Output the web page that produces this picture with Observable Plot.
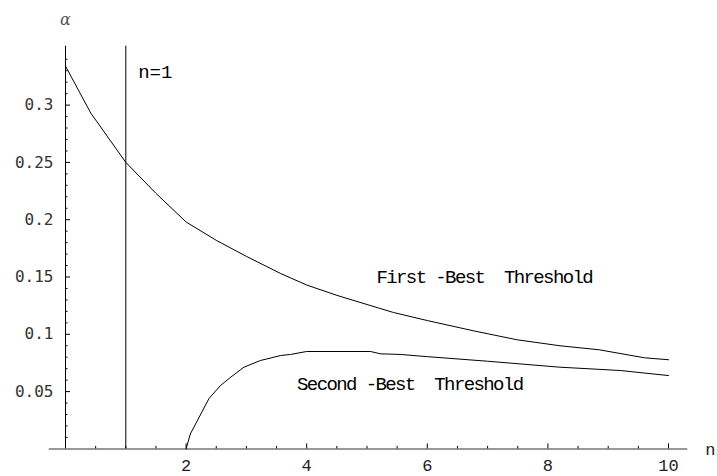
<!DOCTYPE html>
<html><head><meta charset="utf-8">
<script src="https://cdn.jsdelivr.net/npm/d3@7"></script>
<script src="https://cdn.jsdelivr.net/npm/@observablehq/plot@0.6"></script>
<style>body{margin:0;background:#fff} svg{display:block}</style>
</head><body><div id="chart"></div>
<script>
// First-best threshold curve (n, alpha)
const firstN     = [0, 0.42, 1, 1.5, 2, 2.5, 3, 3.57, 4, 4.5, 5, 5.44, 6, 6.77, 7.49, 8.2, 8.85, 9.6, 10];
const firstAlpha = [0.334, 0.293, 0.250, 0.223, 0.198, 0.182, 0.168, 0.153, 0.143, 0.134, 0.126, 0.119, 0.112, 0.103, 0.0952, 0.090, 0.0865, 0.0795, 0.0778];
// Second-best threshold curve
const secondN     = [2.0, 2.07, 2.38, 2.57, 2.74, 2.96, 3.23, 3.57, 3.73, 4.0, 5.06, 5.22, 5.56, 6, 7, 8.2, 9.2, 10];
const secondAlpha = [0, 0.013, 0.044, 0.0553, 0.0626, 0.0713, 0.0771, 0.0815, 0.0824, 0.085, 0.085, 0.083, 0.0824, 0.0805, 0.0765, 0.0713, 0.0684, 0.064];
// Vertical reference line
const refLineN = [1];
// Ticks
const xMajorTicks = [2, 4, 6, 8, 10];
const xTickLabels = ["2", "4", "6", "8", "10"];
const xMinorTicks = [0.5, 1, 1.5, 2.5, 3, 3.5, 4.5, 5, 5.5, 6.5, 7, 7.5, 8.5, 9, 9.5];
const yMajorTicks = [0.05, 0.1, 0.15, 0.2, 0.25, 0.3];
const yTickLabels = ["0.05", "0.1", "0.15", "0.2", "0.25", "0.3"];
const yMinorTicks = [0.01,0.02,0.03,0.04,0.06,0.07,0.08,0.09,0.11,0.12,0.13,0.14,0.16,0.17,0.18,0.19,0.21,0.22,0.23,0.24,0.26,0.27,0.28,0.29,0.31,0.32,0.33,0.34];
// Axis extents
const xAxisExtent = [-0.27, 10.32];
const yAxisTop = 0.3514;
// Annotations
const annotations = [
  {text: "n=1", x: 1.205, y: 0.3293},
  {text: "First -Best\u00A0 Threshold", x: 5.157, y: 0.1504},
  {text: "Second -Best\u00A0 Threshold", x: 3.84, y: 0.0571}
];

const first = firstN.map((n, i) => ({n, a: firstAlpha[i]}));
const second = secondN.map((n, i) => ({n, a: secondAlpha[i]}));
const xMaj = xMajorTicks.map((v, i) => ({v, label: xTickLabels[i]}));
const yMaj = yMajorTicks.map((v, i) => ({v, label: yTickLabels[i]}));

const mono = "'Courier New', 'Liberation Mono', monospace";

const chart = Plot.plot({
  width: 717,
  height: 476,
  marginLeft: 65,
  marginRight: 49,
  marginTop: 47.3,
  marginBottom: 27.6,
  x: {domain: [0, 10], axis: null},
  y: {domain: [0, 0.35], axis: null},
  marks: [
    // x axis line
    Plot.ruleY([0], {x1: xAxisExtent[0], x2: xAxisExtent[1], stroke: "#777", strokeWidth: 1.5}),
    // y axis line
    Plot.ruleX([0], {y1: 0, y2: yAxisTop, stroke: "#000", strokeWidth: 1}),
    // x ticks
    Plot.ruleX(xMaj, {x: "v", y1: 0, y2: 0, insetBottom: 5, stroke: "#000"}),
    Plot.ruleX(xMinorTicks, {x: d => d, y1: 0, y2: 0, insetBottom: 2.5, stroke: "#000"}),
    // y ticks
    Plot.ruleY(yMaj, {y: "v", x1: 0, x2: 0, insetRight: -5, stroke: "#000"}),
    Plot.ruleY(yMinorTicks, {y: d => d, x1: 0, x2: 0, insetRight: -2.5, stroke: "#000"}),
    // tick labels
    Plot.text(xMaj, {x: "v", y: 0, text: "label", dy: 17, fontFamily: mono, fontSize: 17, fill: "#222"}),
    Plot.text(yMaj, {x: 0, y: "v", text: "label", dx: -12, textAnchor: "end", fontFamily: "'DejaVu Sans Mono', monospace", fontSize: 16, fill: "#333"}),
    // axis labels
    Plot.text(["\u03B1"], {x: 0, y: 0.3743, text: d => d, fontFamily: "'DejaVu Serif', serif", fontStyle: "italic", fontSize: 16, fill: "#555"}),
    Plot.text(["n"], {x: 10.61, y: 0, text: d => d, dy: 0.5, textAnchor: "start", fontFamily: mono, fontSize: 17, fill: "#222"}),
    // vertical line n=1
    Plot.ruleX(refLineN, {x: d => d, y1: 0, y2: yAxisTop, stroke: "#000", strokeWidth: 1}),
    // curves
    Plot.line(first, {x: "n", y: "a", stroke: "#000", strokeWidth: 1}),
    Plot.line(second, {x: "n", y: "a", stroke: "#000", strokeWidth: 1}),
    // annotations
    Plot.text(annotations, {x: "x", y: "y", text: "text", textAnchor: "start", fontFamily: mono, fontSize: 19, fill: "#000"})
  ]
});
d3.select(chart).selectAll("text").each(function() {
  const t = this.textContent;
  if (t.includes("Threshold")) d3.select(this).style("letter-spacing", "-1.6px");
});
document.getElementById("chart").appendChild(chart);
</script>
</body></html>
